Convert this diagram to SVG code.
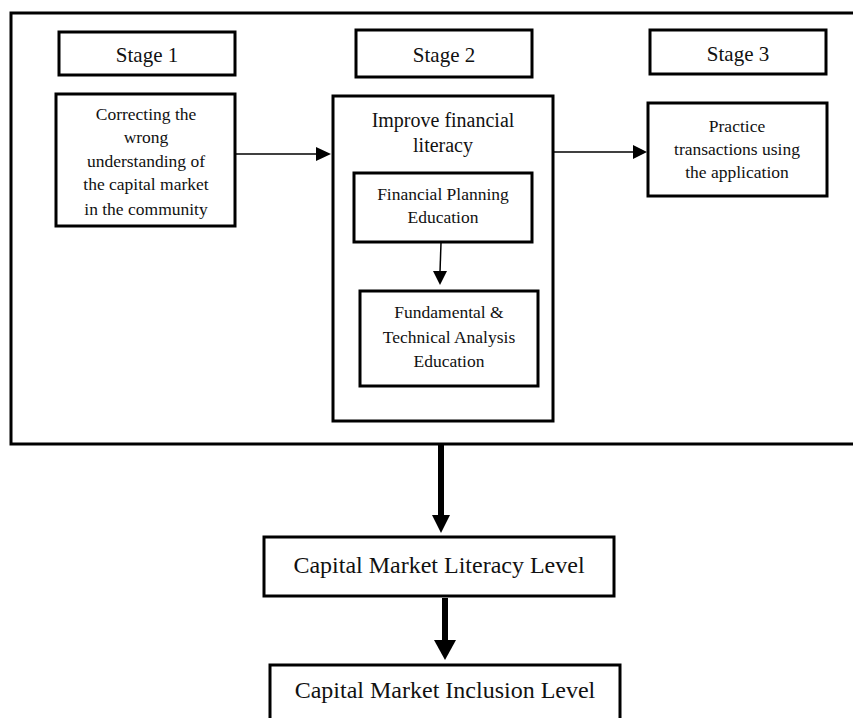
<svg xmlns="http://www.w3.org/2000/svg" width="853" height="718" viewBox="0 0 853 718">
<style>
.box{fill:#fff;stroke:#000;stroke-width:3}
.t{font-family:"Liberation Serif","Times New Roman",serif;fill:#111;text-anchor:middle}
.s17{font-size:17.5px}
.s20{font-size:20px}
.s21{font-size:21px}
.s24{font-size:24px}
.ln{stroke:#000;stroke-width:1.5;fill:none}
.thick{stroke:#000;stroke-width:6;fill:none}
</style>
<rect width="853" height="718" fill="#fff"/>
<g id="frame"><rect x="11" y="13" width="860" height="431" fill="none" stroke="#000" stroke-width="3"/></g>
<g id="stage1-label"><rect class="box" x="59" y="32" width="176" height="43"/><text class="t s21" x="147" y="62">Stage 1</text></g>
<g id="stage2-label"><rect class="box" x="356" y="30" width="176" height="47"/><text class="t s21" x="444" y="62">Stage 2</text></g>
<g id="stage3-label"><rect class="box" x="650" y="30" width="176" height="44"/><text class="t s21" x="738" y="61">Stage 3</text></g>
<g id="stage1-box"><rect class="box" x="56" y="94" width="179" height="132"/>
<text class="t s17" x="146" y="120">Correcting the</text>
<text class="t s17" x="146" y="143">wrong</text>
<text class="t s17" x="146" y="167">understanding of</text>
<text class="t s17" x="146" y="190">the capital market</text>
<text class="t s17" x="146" y="215">in the community</text></g>
<g id="stage2-box"><rect class="box" x="333" y="96" width="220" height="325"/>
<text class="t s20" x="443" y="127">Improve financial</text>
<text class="t s20" x="443" y="152">literacy</text></g>
<g id="planning"><rect class="box" x="354" y="173" width="178" height="69"/>
<text class="t s17" x="443" y="200">Financial Planning</text>
<text class="t s17" x="443" y="223">Education</text></g>
<g id="analysis"><rect class="box" x="360" y="291" width="178" height="95"/>
<text class="t s17" x="449" y="318">Fundamental &amp;</text>
<text class="t s17" x="449" y="343">Technical Analysis</text>
<text class="t s17" x="449" y="367">Education</text></g>
<g id="stage3-box"><rect class="box" x="648" y="103" width="179" height="93"/>
<text class="t s17" x="737" y="132">Practice</text>
<text class="t s17" x="737" y="155">transactions using</text>
<text class="t s17" x="737" y="178">the application</text></g>
<g id="literacy"><rect class="box" x="264" y="537" width="350" height="59"/>
<text class="t s24" x="439" y="573">Capital Market Literacy Level</text></g>
<g id="inclusion"><rect class="box" x="270" y="665" width="350" height="70"/>
<text class="t s24" x="445" y="698">Capital Market Inclusion Level</text></g>
<g id="connectors">
<line class="ln" x1="236" y1="154" x2="318" y2="154"/><polygon points="316,147 331,154 316,161"/>
<line class="ln" x1="554" y1="152" x2="635" y2="152"/><polygon points="633,145 647,152 633,159"/>
<line class="ln" x1="441" y1="243" x2="440" y2="272"/><polygon points="433,271 447,271 440,285"/>
<line class="thick" x1="441" y1="445" x2="441" y2="517"/><polygon points="432,515 450,515 441,533"/>
<line class="thick" x1="445" y1="598" x2="445" y2="642"/><polygon points="434,640 456,640 445,660"/>
</g>
</svg>
